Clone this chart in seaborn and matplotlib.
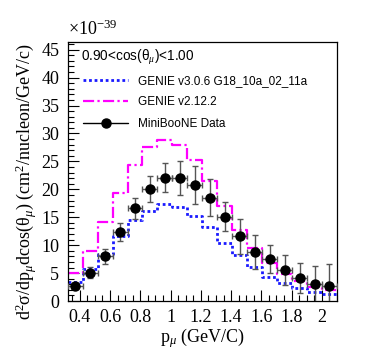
import matplotlib
matplotlib.use("Agg")
import matplotlib.pyplot as plt
from matplotlib.lines import Line2D
from matplotlib.ticker import MultipleLocator
import numpy as np
import pandas as pd
import seaborn as sns

# bin edges in p_mu (GeV/c)
bin_edges = [0.32, 0.419, 0.518, 0.617, 0.716, 0.814, 0.913, 1.012, 1.111, 1.21,
             1.309, 1.408, 1.507, 1.606, 1.704, 1.803, 1.902, 2.001, 2.10]

genie_v3 = [3.4, 5.7, 8.5, 11.6, 14.5, 16.1, 17.3, 16.8, 15.3, 13.2,
            10.4, 8.2, 6.1, 4.3, 3.3, 2.4, 1.6, 1.3]
genie_v2 = [5.1, 9.0, 14.1, 19.3, 24.3, 27.6, 28.9, 28.0, 25.3, 21.5,
            17.0, 12.8, 9.5, 6.9, 4.9, 3.5, 2.6, 1.9]
data_vals = [2.7, 5.1, 8.0, 12.4, 16.6, 20.1, 22.1, 22.0, 20.8, 18.5,
             15.1, 11.6, 8.8, 7.6, 5.6, 4.1, 3.0, 2.7]
data_errs = [0.6, 1.0, 1.3, 1.6, 1.9, 2.3, 2.6, 3.0, 3.4, 3.3,
             2.6, 3.1, 3.0, 2.5, 2.7, 2.7, 3.3, 3.9]

edges = np.array(bin_edges)
centers = 0.5 * (edges[:-1] + edges[1:])
half_w = 0.5 * np.diff(edges)
df = pd.DataFrame({'p': centers, 'v3': genie_v3, 'v2': genie_v2})

sns.set_theme(style="ticks")
plt.rcParams['font.family'] = ['Liberation Serif', 'DejaVu Serif']
plt.rcParams['mathtext.fontset'] = 'custom'
plt.rcParams['mathtext.rm'] = 'Liberation Serif'
plt.rcParams['mathtext.it'] = 'Liberation Serif:italic'

fig = plt.figure(figsize=(3.74, 3.55), dpi=100)
ax = fig.add_axes([0.181, 0.152, 0.720, 0.730])

blue = '#1a1aff'
magenta = '#ff00ff'

sns.histplot(data=df, x='p', weights='v3', bins=list(bin_edges), element='step', fill=False,
             color=blue, linestyle=(0, (1, 1)), linewidth=2.0, ax=ax)
sns.histplot(data=df, x='p', weights='v2', bins=list(bin_edges), element='step', fill=False,
             color=magenta, linestyle=(0, (5, 1.5, 1, 1.5)), linewidth=1.6, ax=ax)
ax.errorbar(centers, data_vals, yerr=data_errs, xerr=half_w, fmt='o', color='black',
            ecolor='#555555', elinewidth=1.0, capsize=2, markersize=6.5, zorder=5)

ax.set_xlim(bin_edges[0], bin_edges[-1])
ax.set_ylim(0, 46.4)
ax.xaxis.set_major_locator(MultipleLocator(0.2))
ax.xaxis.set_minor_locator(MultipleLocator(0.05))
ax.yaxis.set_major_locator(MultipleLocator(5))
ax.yaxis.set_minor_locator(MultipleLocator(1))
ax.xaxis.set_major_formatter(matplotlib.ticker.FuncFormatter(lambda v, p: f'{v:g}'))
ax.tick_params(which='both', direction='in', top=False, right=False, bottom=True, left=True,
               colors='black', labelsize=13, width=0.8)
ax.tick_params(which='major', length=8, pad=6)
ax.tick_params(which='minor', length=4)
for s in ax.spines.values():
    s.set_visible(True)
    s.set_color('black')
    s.set_linewidth(0.9)

ax.set_ylabel(r'd$^{2}$σ/dp$_{\mu}$dcos(θ$_{\mu}$) (cm$^{2}$/nucleon/GeV/c)',
              fontsize=13, color='black')
ax.yaxis.set_label_coords(-0.105, 0.46)
ax.set_xlabel(r'p$_{\mu}$ (GeV/C)', fontsize=13, color='black', labelpad=0)
ax.text(0.0, 1.012, r'×10$^{-39}$', transform=ax.transAxes, fontsize=13,
        ha='left', va='bottom', color='black')

sans = ['Liberation Sans', 'DejaVu Sans']
ax.text(0.05, 0.94, r'0.90<cos(θ$_{\mu}$)<1.00', transform=ax.transAxes,
        fontsize=9.8, family=sans, va='center', ha='left', color='black')

handles = [
    Line2D([], [], color=blue, linestyle=(0, (1, 1)), linewidth=2.0),
    Line2D([], [], color=magenta, linestyle=(0, (5, 1.5, 1, 1.5)), linewidth=1.6),
    Line2D([], [], color='black', marker='o', markersize=6.5, linewidth=1.0),
]
labels = ['GENIE v3.0.6 G18_10a_02_11a', 'GENIE v2.12.2', 'MiniBooNE Data']
leg = ax.legend(handles, labels, loc='upper left', bbox_to_anchor=(0.058, 0.873),
                frameon=False, prop={'family': sans, 'size': 8.5},
                handlelength=3.8, handletextpad=0.85, labelspacing=0.8,
                borderaxespad=0.0, borderpad=0.0)
for t in leg.get_texts():
    t.set_color('black')

fig.savefig('out.png', dpi=100)
